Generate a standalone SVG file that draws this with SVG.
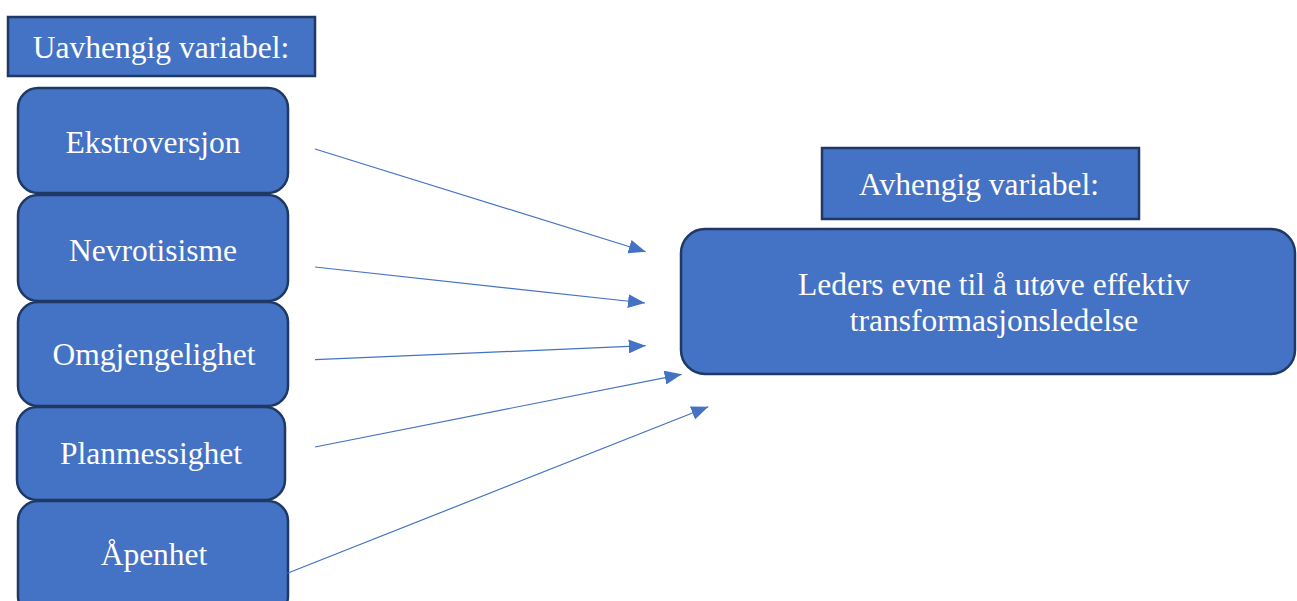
<svg xmlns="http://www.w3.org/2000/svg" width="1297" height="601" viewBox="0 0 1297 601">
<style>
.box{fill:#4472c4;stroke:#1f3864;stroke-width:2.5}
.t{fill:#ffffff;font-family:"Liberation Serif","Times New Roman",serif;font-size:31.5px;text-anchor:middle}
.c{stroke:#4472c4;stroke-width:1.2;fill:none}
</style>
<defs>
<marker id="ah" markerUnits="userSpaceOnUse" markerWidth="18" markerHeight="14" refX="17" refY="7" orient="auto">
<path d="M0,0 L17,7 L0,14 z" fill="#4472c4"/>
</marker>
</defs>
<rect width="1297" height="601" fill="#ffffff"/>
<g id="header-uavhengig">
<rect class="box" x="8" y="17" width="307" height="59"/>
<text class="t" x="161" y="58">Uavhengig variabel:</text>
</g>
<g id="ekstroversjon">
<rect class="box" x="18" y="88" width="270" height="105" rx="20"/>
<text class="t" x="153" y="153">Ekstroversjon</text>
</g>
<g id="nevrotisisme">
<rect class="box" x="18" y="195" width="270" height="106" rx="20"/>
<text class="t" x="153" y="261">Nevrotisisme</text>
</g>
<g id="omgjengelighet">
<rect class="box" x="18" y="302" width="270" height="104" rx="20"/>
<text class="t" x="154" y="365">Omgjengelighet</text>
</g>
<g id="planmessighet">
<rect class="box" x="17" y="407" width="268" height="93" rx="20"/>
<text class="t" x="151" y="464">Planmessighet</text>
</g>
<g id="apenhet">
<rect class="box" x="18" y="501" width="270" height="115" rx="20"/>
<text class="t" x="154" y="565">Åpenhet</text>
</g>
<g id="header-avhengig">
<rect class="box" x="822" y="148" width="317" height="71"/>
<text class="t" x="979" y="195">Avhengig variabel:</text>
</g>
<g id="leders-evne">
<rect class="box" x="681" y="229" width="614" height="145" rx="24"/>
<text class="t" x="994" y="295">Leders evne til å utøve effektiv</text>
<text class="t" x="994" y="331">transformasjonsledelse</text>
</g>
<g id="connectors">
<line class="c" x1="315" y1="149" x2="645.7" y2="251.7" marker-end="url(#ah)"/>
<line class="c" x1="315" y1="267" x2="645" y2="303" marker-end="url(#ah)"/>
<line class="c" x1="315" y1="359.7" x2="645.7" y2="345.7" marker-end="url(#ah)"/>
<line class="c" x1="315" y1="447" x2="681.7" y2="374.3" marker-end="url(#ah)"/>
<line class="c" x1="287.3" y1="573.3" x2="708.3" y2="406.7" marker-end="url(#ah)"/>
</g>
</svg>
